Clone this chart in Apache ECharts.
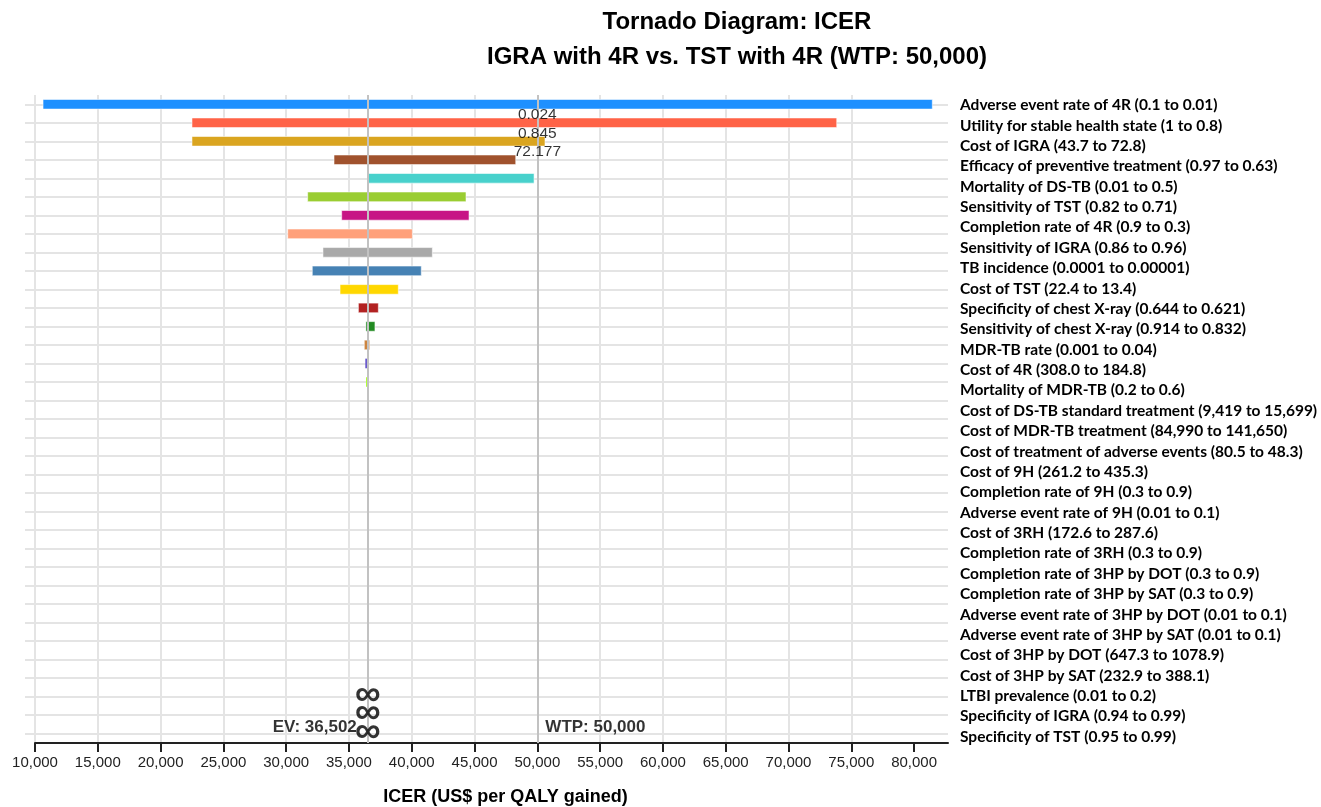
<!DOCTYPE html>
<html>
<head>
<meta charset="utf-8">
<script src="https://cdn.jsdelivr.net/npm/echarts@6/dist/echarts.min.js"></script>
<style>
    html, body { margin: 0; padding: 0; background: #fff; }
    #main { width: 1321px; height: 807px; }
</style>
</head>
<body>
<div id="main"></div>
<script>
// parameter names shown on the right, top to bottom
var paramLabels = [
    'Adverse event rate of 4R (0.1 to 0.01)',
    'Utility for stable health state (1 to 0.8)',
    'Cost of IGRA (43.7 to 72.8)',
    'Efficacy of preventive treatment (0.97 to 0.63)',
    'Mortality of DS-TB (0.01 to 0.5)',
    'Sensitivity of TST (0.82 to 0.71)',
    'Completion rate of 4R (0.9 to 0.3)',
    'Sensitivity of IGRA (0.86 to 0.96)',
    'TB incidence (0.0001 to 0.00001)',
    'Cost of TST (22.4 to 13.4)',
    'Specificity of chest X-ray (0.644 to 0.621)',
    'Sensitivity of chest X-ray (0.914 to 0.832)',
    'MDR-TB rate (0.001 to 0.04)',
    'Cost of 4R (308.0 to 184.8)',
    'Mortality of MDR-TB (0.2 to 0.6)',
    'Cost of DS-TB standard treatment (9,419 to 15,699)',
    'Cost of MDR-TB treatment (84,990 to 141,650)',
    'Cost of treatment of adverse events (80.5 to 48.3)',
    'Cost of 9H (261.2 to 435.3)',
    'Completion rate of 9H (0.3 to 0.9)',
    'Adverse event rate of 9H (0.01 to 0.1)',
    'Cost of 3RH (172.6 to 287.6)',
    'Completion rate of 3RH (0.3 to 0.9)',
    'Completion rate of 3HP by DOT (0.3 to 0.9)',
    'Completion rate of 3HP by SAT (0.3 to 0.9)',
    'Adverse event rate of 3HP by DOT (0.01 to 0.1)',
    'Adverse event rate of 3HP by SAT (0.01 to 0.1)',
    'Cost of 3HP by DOT (647.3 to 1078.9)',
    'Cost of 3HP by SAT (232.9 to 388.1)',
    'LTBI prevalence (0.01 to 0.2)',
    'Specificity of IGRA (0.94 to 0.99)',
    'Specificity of TST (0.95 to 0.99)'
];

// ICER range of each bar (row order = the first 16 labels)
var lowIcer  = [10640, 22500, 22500, 33810, 36502, 31710, 34420, 30120, 32930, 32080, 34290, 35750, 36350, 36220, 36300, 36360];
var highIcer = [81450, 73840, 50610, 48280, 49740, 44320, 44560, 40050, 41640, 40760, 38930, 37340, 37070, 36650, 36470, 36502];
var barColors = ['#1E90FF', '#FF6347', '#DAA520', '#A0522D', '#48D1CC', '#9ACD32', '#C71585', '#FFA07A',
    '#A9A9A9', '#4682B4', '#FFD700', '#B22222', '#228B22', '#CD853F', '#6A5ACD', '#ADFF2F'];

var EV = 36502;
var WTP = 50000;
var xTicks = [10000, 15000, 20000, 25000, 30000, 35000, 40000, 45000, 50000, 55000, 60000, 65000, 70000, 75000, 80000];

// threshold values written at the WTP line
var thresholdRows = [1, 2, 3];
var thresholdTexts = ['0.024', '0.845', '72.177'];

// rows where the ICER is undefined
var infiniteRows = [32, 33, 34];

var ROW_COUNT = 35;
var FONT = 'Liberation Sans, Arial, sans-serif';

var rowSlots = [];
for (var i = 0; i < ROW_COUNT; i++) rowSlots.push(String(i));

var barData = [];
for (var i = 0; i < lowIcer.length; i++) barData.push([i, lowIcer[i], highIcer[i]]);

function fmt(v) {
    return Number(v).toLocaleString('en-US');
}

function renderBar(params, api) {
    var row = api.value(0);
    var lo = Math.min(api.value(1), api.value(2));
    var hi = Math.max(api.value(1), api.value(2));
    var h = api.size([0, 1])[1] * 0.52;
    var pLo = api.coord([lo, row]);
    var pHi = api.coord([hi, row]);
    var pEv = api.coord([EV, row]);
    // thin bars get no light edge, otherwise they vanish
    var thin = pHi[0] - pLo[0] < 4;
    var style = { fill: barColors[params.dataIndex], stroke: thin ? null : 'rgba(255,255,255,0.55)', lineWidth: 1 };
    var kids = [];
    var left = Math.min(pEv[0], pHi[0]);
    if (left > pLo[0]) {
        kids.push({ type: 'rect', shape: { x: pLo[0], y: pLo[1] - h / 2, width: left - pLo[0], height: h }, style: style });
    }
    var right = Math.max(pEv[0], pLo[0]);
    if (pHi[0] > right) {
        kids.push({ type: 'rect', shape: { x: right, y: pLo[1] - h / 2, width: pHi[0] - right, height: h }, style: style });
    }
    return { type: 'group', children: kids };
}

// text placed at a point of the chart
function textSeries(data, label) {
    return {
        type: 'scatter',
        xAxisIndex: 0,
        yAxisIndex: 0,
        symbolSize: 0,
        silent: true,
        z: 6,
        data: data,
        label: Object.assign({ show: true, fontFamily: FONT, color: '#000' }, label)
    };
}

var chart = echarts.init(document.getElementById('main'));
chart.setOption({
    animation: false,
    backgroundColor: '#fff',
    title: {
        text: 'Tornado Diagram: ICER\nIGRA with 4R vs. TST with 4R (WTP: 50,000)',
        left: 737,
        top: 5,
        padding: 0,
        textAlign: 'center',
        textStyle: { fontFamily: FONT, fontSize: 24, fontWeight: 'bold', color: '#000', lineHeight: 35 }
    },
    grid: [
        { left: 35, top: 95, width: 913, height: 648, outerBoundsMode: 'none' },
        { left: 35, top: 95, width: 913, height: 652, outerBoundsMode: 'none' }
    ],
    xAxis: [
        {
            type: 'value',
            gridIndex: 0,
            min: 10000,
            max: 82700,
            interval: 5000,
            name: 'ICER (US$ per QALY gained)',
            nameLocation: 'middle',
            nameGap: 45,
            nameTextStyle: { fontFamily: FONT, fontSize: 18, fontWeight: 'bold', color: '#000', padding: [0, 0, 0, 28] },
            axisLine: { show: true, lineStyle: { color: '#222', width: 2 } },
            axisTick: { show: true, length: 9, customValues: xTicks, lineStyle: { color: '#222', width: 2 } },
            axisLabel: { customValues: xTicks, margin: 12, fontFamily: FONT, fontSize: 15, color: '#222', formatter: fmt },
            splitLine: { show: true, showMaxLine: false, lineStyle: { color: '#e4e4e4', width: 2 } }
        },
        { type: 'value', gridIndex: 1, show: false }
    ],
    yAxis: [
        {
            type: 'category',
            gridIndex: 0,
            inverse: true,
            data: rowSlots,
            axisLine: { show: false },
            axisLabel: { show: false },
            axisTick: { show: true, alignWithLabel: true, length: 10, lineStyle: { color: '#e4e4e4', width: 2 } },
            splitLine: { show: true, alignWithLabel: true, lineStyle: { color: '#e4e4e4', width: 2 } }
        },
        {
            type: 'category',
            gridIndex: 1,
            inverse: true,
            position: 'right',
            data: paramLabels,
            axisLine: { show: false },
            axisTick: { show: false },
            splitLine: { show: false },
            axisLabel: { interval: 0, margin: 12, fontFamily: 'Lato, sans-serif', fontWeight: 'bold', fontSize: 15.5, color: '#000' }
        }
    ],
    series: [
        {
            type: 'custom',
            xAxisIndex: 0,
            yAxisIndex: 0,
            renderItem: renderBar,
            encode: { x: [1, 2], y: 0 },
            data: barData,
            z: 2
        },
        {
            type: 'scatter',
            xAxisIndex: 0,
            yAxisIndex: 0,
            symbolSize: 0,
            silent: true,
            z: 5,
            data: [],
            markLine: {
                silent: true,
                symbol: 'none',
                label: { show: false },
                lineStyle: { color: '#c2c2c2', width: 2, type: 'solid' },
                data: [{ xAxis: EV }, { xAxis: WTP }]
            }
        },
        textSeries([[EV, ROW_COUNT - 1]], {
            position: 'left', distance: 11, offset: [0, -6], fontSize: 17, fontWeight: 'bold',
            formatter: function () { return 'EV: ' + fmt(EV); }
        }),
        textSeries([[WTP, ROW_COUNT - 1]], {
            position: 'right', distance: 8, offset: [0, -6], fontSize: 17, fontWeight: 'bold',
            formatter: function () { return 'WTP: ' + fmt(WTP); }
        }),
        textSeries(thresholdRows.map(function (r) { return [WTP, r]; }), {
            position: 'inside', offset: [0, -8], fontSize: 15.5,
            formatter: function (p) { return thresholdTexts[p.dataIndex]; }
        }),
        textSeries(infiniteRows.map(function (r) { return [EV, r]; }), {
            position: 'inside', offset: [0, -2], fontSize: 36, fontWeight: 'bold',
            formatter: '∞'
        })
    ]
});
</script>
</body>
</html>
